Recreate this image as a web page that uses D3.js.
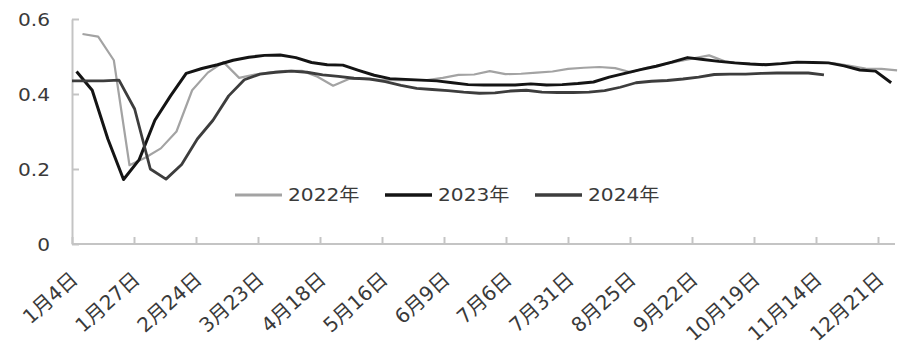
<!DOCTYPE html>
<html>
<head>
<meta charset="utf-8">
<script src="https://cdn.jsdelivr.net/npm/d3@7/dist/d3.min.js"></script>
<style>
  html, body { margin: 0; padding: 0; background: #ffffff; }
  svg { display: block; }
  text { font-family: "DejaVu Sans", "Noto Sans CJK SC", sans-serif; fill: #3a3a3a; }
</style>
</head>
<body>
<svg id="chart" width="900" height="355"></svg>
<script>
// ---- data ----
const tickLabels = ["1月4日","1月27日","2月24日","3月23日","4月18日","5月16日","6月9日",
  "7月6日","7月31日","8月25日","9月22日","10月19日","11月14日","12月21日"];
const yTicks = [0, 0.2, 0.4, 0.6];
const seriesNames = ["2022年", "2023年", "2024年"];
// first-point offset (in weeks) of each series
const seriesStart = [0.67, 0.29, 0];

const v2022 = [0.560,0.553,0.490,0.210,0.230,0.255,0.300,0.410,0.457,0.485,0.443,0.452,
  0.458,0.462,0.462,0.446,0.422,0.440,0.440,0.438,0.437,0.437,0.437,0.443,0.451,0.452,
  0.461,0.453,0.454,0.457,0.460,0.467,0.470,0.472,0.469,0.458,0.470,0.478,0.487,0.495,
  0.503,0.487,0.482,0.480,0.480,0.482,0.485,0.484,0.482,0.475,0.468,0.467,0.463];
const v2023 = [0.460,0.410,0.280,0.172,0.225,0.330,0.395,0.455,0.468,0.478,0.490,0.498,
  0.503,0.504,0.497,0.484,0.478,0.477,0.463,0.450,0.441,0.439,0.437,0.435,0.430,0.425,
  0.424,0.424,0.424,0.427,0.424,0.425,0.428,0.432,0.445,0.455,0.465,0.474,0.485,0.497,
  0.492,0.487,0.483,0.480,0.478,0.481,0.485,0.484,0.483,0.475,0.464,0.461,0.430];
const v2024 = [0.435,0.435,0.435,0.437,0.360,0.200,0.173,0.212,0.280,0.330,0.395,0.438,
  0.453,0.458,0.461,0.458,0.451,0.447,0.442,0.440,0.433,0.423,0.415,0.412,0.409,0.405,
  0.402,0.403,0.408,0.410,0.405,0.404,0.404,0.405,0.409,0.418,0.430,0.434,0.436,0.440,
  0.445,0.452,0.453,0.453,0.455,0.456,0.456,0.456,0.451];

const seriesValues = [v2022, v2023, v2024];
const seriesColors = ["#a3a3a3", "#141414", "#3d3d3d"];
const seriesWidths = [2.2, 3, 2.8];

// ---- layout ----
const svg = d3.select("#chart");
const mLeft = 72, mRight = 896, mTop = 19, mBottom = 244;
const stretch = 1.12;

const x = d3.scaleLinear().domain([0, 52.6]).range([mLeft, mRight]);
const xTick = d3.scalePoint().domain(tickLabels).range([72, 878]);
const y = d3.scaleLinear().domain([0, 0.6]).range([mBottom, mTop]);

const axisColor = "#c4c4c4";

// y axis
const yAxis = d3.axisLeft(y).tickValues(yTicks).tickSize(-7).tickSizeOuter(0)
  .tickFormat(d => d === 0 ? "0" : d.toFixed(1));
const gy = svg.append("g").attr("transform", `translate(${mLeft},0)`).call(yAxis);
gy.select(".domain").attr("stroke", axisColor).attr("stroke-width", 2);
gy.selectAll(".tick line").attr("stroke", axisColor).attr("stroke-width", 2);
gy.selectAll(".tick text").remove();
gy.selectAll(".tick").append("text")
  .attr("transform", `translate(-22,0) scale(${stretch},1)`)
  .attr("text-anchor", "end").attr("dy", "0.36em")
  .style("font-size", "18px")
  .text(d => d === 0 ? "0" : d.toFixed(1));

// x axis
const xAxis = d3.axisBottom(xTick).tickSize(-7).tickSizeOuter(0);
const gx = svg.append("g").attr("transform", `translate(0,${mBottom})`).call(xAxis);
gx.select(".domain").remove();
gx.append("line").attr("x1", mLeft).attr("x2", mRight - 1).attr("y1", 0).attr("y2", 0)
  .attr("stroke", axisColor).attr("stroke-width", 2);
gx.selectAll(".tick line").attr("stroke", axisColor).attr("stroke-width", 2);
gx.selectAll(".tick text")
  .attr("y", 0).attr("dy", "0.35em")
  .attr("transform", "translate(2,32) rotate(-42)")
  .attr("text-anchor", "end")
  .style("font-size", "20px")
  .style("font-family", "\"DejaVu Sans\", \"Noto Sans CJK SC\", sans-serif")
  .attr("fill", "#3a3a3a");

// lines
const line = d3.line().x(d => x(d.w)).y(d => y(d.v));
seriesValues.forEach((vals, k) => {
  const pts = vals.map((v, i) => ({ w: seriesStart[k] + i, v }));
  svg.append("path").datum(pts)
    .attr("fill", "none")
    .attr("stroke", seriesColors[k])
    .attr("stroke-width", seriesWidths[k])
    .attr("stroke-linejoin", "round")
    .attr("d", line);
});

// legend
const legendX = [235, 385, 535];
const legendY = 195;
seriesNames.forEach((name, k) => {
  const g = svg.append("g").attr("transform", `translate(${legendX[k]},${legendY})`);
  g.append("line").attr("x1", 0).attr("x2", 47).attr("y1", 0).attr("y2", 0)
    .attr("stroke", seriesColors[k]).attr("stroke-width", seriesWidths[k] + 0.6);
  g.append("text")
    .attr("transform", `translate(53,0) scale(${stretch},1)`)
    .attr("dy", "0.36em")
    .style("font-size", "18px")
    .text(name);
});
</script>
</body>
</html>
